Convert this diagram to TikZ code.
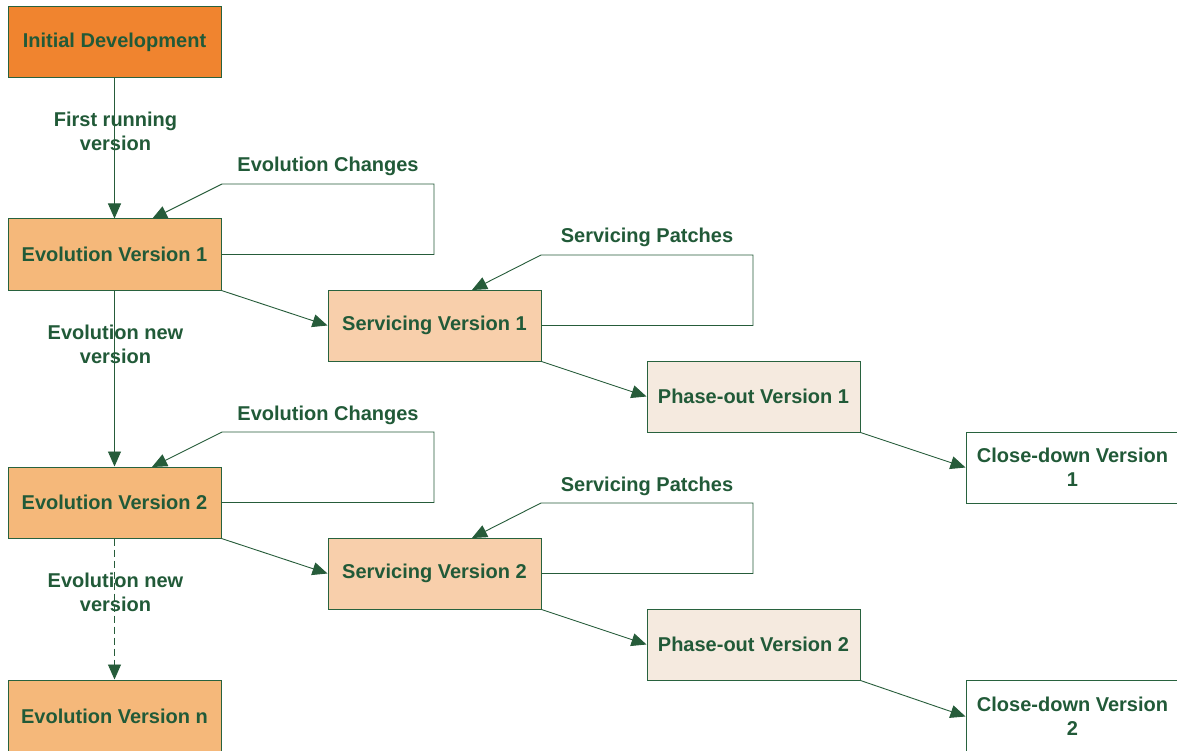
\documentclass[tikz,border=0pt]{standalone}
\usepackage{fontspec}
\setmainfont{Liberation Sans}
\usetikzlibrary{arrows.meta,calc}
\definecolor{txt}{RGB}{33,90,56}
\definecolor{bord}{RGB}{40,98,62}
\definecolor{lnk}{RGB}{38,92,58}
\definecolor{fInit}{RGB}{240,132,47}
\definecolor{fEvo}{RGB}{245,184,122}
\definecolor{fSrv}{RGB}{248,207,171}
\definecolor{fPha}{RGB}{245,234,223}
\begin{document}
\begin{tikzpicture}[x=1pt,y=-1pt,
  font=\fontsize{20}{24}\selectfont\bfseries,
  box/.style={draw=bord, line width=1pt, minimum width=213pt, minimum height=71pt,
    text=txt, inner sep=0pt, align=center},
  lab/.style={text=txt, align=center, inner sep=0pt},
  link/.style={draw=lnk, line width=0.9pt, -{Triangle[length=15pt,width=13pt]}},
  loop/.style={draw=lnk, line width=0.9pt, -{Triangle[length=15pt,width=13pt]}},
  dlink/.style={link, dash pattern=on 7pt off 4pt}]
\clip (0,0) rectangle (1177,751);
\fill[white] (0,0) rectangle (1177,751);
% boxes
\node[box, fill=fInit] (init) at (114.5,42) {Initial Development};
\node[box, fill=fEvo] (ev1) at (114.5,254.5) {Evolution Version 1};
\node[box, fill=fSrv] (sv1) at (434.5,325.5) {Servicing Version 1};
\node[box, fill=fPha] (ph1) at (753.5,396.5) {Phase-out Version 1};
\node[box, fill=white] (cd1) at (1072.5,467.5) {Close-down Version\\1};
\node[box, fill=fEvo] (ev2) at (114.5,502.5) {Evolution Version 2};
\node[box, fill=fSrv] (sv2) at (434.5,573.5) {Servicing Version 2};
\node[box, fill=fPha] (ph2) at (753.5,644.5) {Phase-out Version 2};
\node[box, fill=white, minimum height=73pt] (cd2) at (1072.5,716.5) {Close-down Version\\2};
\node[box, fill=fEvo, minimum height=73pt] (evn) at (114.5,716.5) {Evolution Version n};
% labels
\node[lab] (lfirst) at (115.5,131.5) {First running\\version};
\node[lab] (lnew1) at (115.5,344.5) {Evolution new\\version};
\node[lab] (lnew2) at (115.5,592.5) {Evolution new\\version};
\node[lab] (lec1) at (328,166.5) {Evolution Changes};
\node[lab] (lec2) at (328,415.5) {Evolution Changes};
\node[lab] (lsp1) at (647,237.5) {Servicing Patches};
\node[lab] (lsp2) at (647,486.5) {Servicing Patches};
% loop coordinates
\coordinate (a1) at (434,184); \coordinate (b1) at (222,184); \coordinate (t1) at (152,219);
\coordinate (a2) at (753,255); \coordinate (b2) at (541,255); \coordinate (t2) at (472,290);
\coordinate (a3) at (434,432); \coordinate (b3) at (222,432); \coordinate (t3) at (152,467);
\coordinate (a4) at (753,503); \coordinate (b4) at (541,503); \coordinate (t4) at (472,538);
% vertical links
\draw[link] (init.south) -- (ev1.north);
\draw[link] (ev1.south) -- (ev2.north);
\draw[dlink] (ev2.south) -- (evn.north);
% diagonal links
\draw[link] (ev1.south east) -- (sv1.west);
\draw[link] (sv1.south east) -- (ph1.west);
\draw[link] (ph1.south east) -- (cd1.west);
\draw[link] (ev2.south east) -- (sv2.west);
\draw[link] (sv2.south east) -- (ph2.west);
\draw[link] (ph2.south east) -- (cd2.west);
% loops
\draw[loop] (ev1.east) -| (a1) -- (b1) -- (t1);
\draw[loop] (sv1.east) -| (a2) -- (b2) -- (t2);
\draw[loop] (ev2.east) -| (a3) -- (b3) -- (t3);
\draw[loop] (sv2.east) -| (a4) -- (b4) -- (t4);
\end{tikzpicture}
\end{document}
